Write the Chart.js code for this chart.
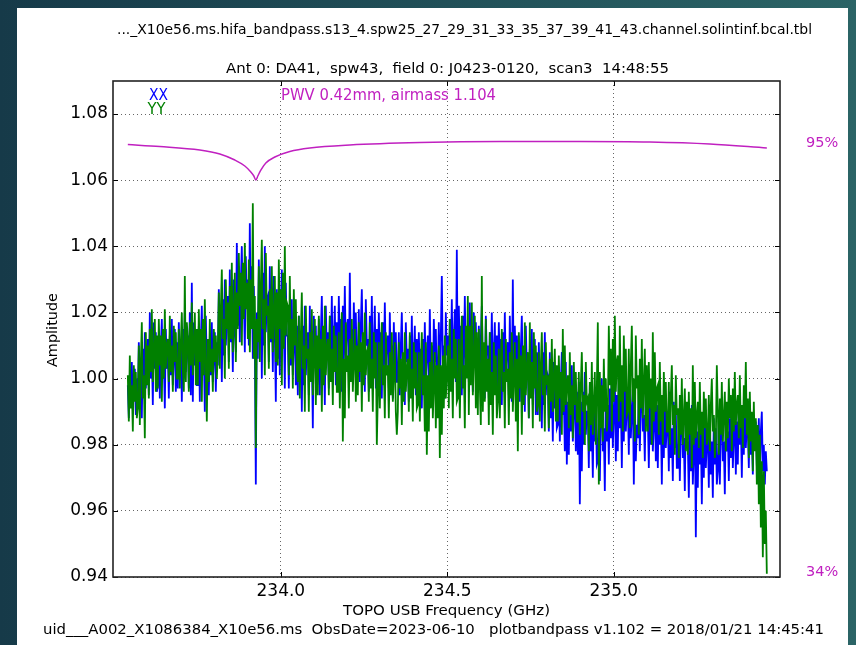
<!DOCTYPE html>
<html><head><meta charset="utf-8">
<script src="https://cdn.jsdelivr.net/npm/chart.js@4/dist/chart.umd.min.js"></script>
<style>
html,body{margin:0;padding:0;width:856px;height:645px;overflow:hidden;background:linear-gradient(90deg,#163a49,#2b6466);}
#panel{position:absolute;left:17px;top:8px;width:831px;height:637px;background:#fff;}
#wrap{position:absolute;left:0;top:0;width:856px;height:645px;}
</style></head><body>
<div id="panel"></div>
<div id="wrap"><canvas id="c" width="856" height="645"></canvas></div>
<script>
// ---- data ----
const freqStartGHz = 233.5405;  // first channel
const freqStepGHz = 0.003003;   // channel spacing

const xxAmp = [
0.998,0.988,1.001,0.993,1.005,0.991,0.997,1.003,0.989,1.000,
0.992,1.011,0.998,1.006,0.988,1.009,0.995,1.014,0.997,1.004,
1.012,0.995,1.020,1.000,1.009,0.992,1.017,1.003,1.014,0.996,
0.998,1.013,0.994,1.009,1.018,1.000,1.006,0.991,1.015,1.003,
1.009,0.994,1.013,1.001,1.018,0.998,1.006,1.015,0.996,1.011,
0.997,1.017,1.004,1.012,0.993,1.015,1.000,1.020,1.002,1.009,
1.013,0.997,1.020,0.995,1.029,0.993,1.017,1.004,1.014,0.998,
0.998,1.016,0.993,1.011,1.022,1.001,1.008,0.990,1.019,1.004,
1.008,0.995,1.012,1.001,1.017,0.999,1.006,1.014,0.996,1.011,
1.004,1.027,1.011,1.021,0.999,1.024,1.007,1.030,1.010,1.018,
1.025,1.005,1.033,1.011,1.021,1.002,1.030,1.014,1.008,1.041,
1.016,1.034,1.011,1.029,1.040,1.019,1.026,1.008,1.037,1.022,
1.030,1.010,1.047,1.015,1.034,1.006,1.028,1.012,0.968,1.020,
1.006,1.036,1.016,1.028,1.000,1.032,1.010,1.040,1.014,1.024,
1.025,1.005,1.034,1.011,1.022,1.002,1.031,1.014,0.993,1.027,
1.006,1.026,1.001,1.020,1.033,1.010,1.017,0.997,1.029,1.013,
1.013,0.997,1.018,1.004,1.024,1.001,1.010,1.021,0.998,1.016,
0.995,1.019,1.003,1.012,0.990,1.016,0.998,1.022,1.001,1.009,
1.014,0.995,1.022,1.000,1.010,0.985,1.019,1.004,1.016,0.997,
1.000,1.018,0.995,1.013,1.025,1.004,1.010,0.992,1.022,1.007,
1.014,0.997,1.019,1.005,1.025,1.001,1.011,1.022,0.998,1.017,
1.001,1.025,1.009,1.018,0.996,1.022,1.004,1.028,1.007,1.015,
1.018,1.002,1.032,1.006,1.015,0.999,1.023,1.009,1.020,1.003,
1.004,1.021,0.999,1.016,1.027,1.007,1.013,0.996,1.024,1.010,
1.012,0.996,1.019,1.003,1.025,1.000,1.009,1.022,0.997,1.015,
0.998,1.020,1.006,1.014,0.994,1.017,1.001,1.023,1.004,1.011,
1.013,0.997,1.020,1.001,1.010,0.994,1.017,1.004,1.014,0.999,
0.999,1.014,0.995,1.010,1.020,1.002,1.007,0.992,1.017,1.005,
1.009,0.993,1.013,1.000,1.019,0.998,1.006,1.016,0.995,1.012,
0.995,1.014,1.001,1.009,0.991,1.012,0.998,1.017,1.000,1.007,
1.013,0.997,1.021,1.002,1.010,0.994,1.018,1.005,1.015,0.999,
1.001,1.017,0.997,1.013,1.031,1.004,1.010,0.994,1.020,1.007,
1.013,0.997,1.018,1.005,1.024,1.002,1.011,1.021,0.999,1.039,
0.999,1.022,1.007,1.016,0.995,1.019,1.003,1.025,1.006,1.013,
1.015,0.999,1.023,1.004,1.012,0.996,1.020,1.007,1.017,1.001,
1.001,1.016,0.997,1.012,1.022,1.004,1.009,0.994,1.019,1.007,
1.010,0.994,1.014,1.001,1.020,0.999,1.007,1.017,0.996,1.013,
0.996,1.017,1.003,1.012,0.992,1.014,0.999,1.020,1.002,1.009,
1.011,0.995,1.019,1.000,0.993,1.030,0.998,1.016,1.003,1.013,
0.997,1.013,0.993,1.009,1.019,1.000,1.006,0.990,1.016,1.003,
1.005,0.988,1.009,0.995,1.015,0.992,1.002,1.012,0.989,1.008,
0.989,1.011,0.997,1.005,0.985,1.008,0.992,1.014,0.995,1.002,
1.001,0.984,1.008,0.988,0.998,0.981,1.005,0.991,1.002,0.985,
0.986,1.002,0.981,0.998,1.008,0.989,0.995,0.978,1.005,0.974,
0.993,0.977,0.998,0.984,1.004,0.981,0.990,1.001,0.978,0.996,
0.977,0.999,0.962,0.993,0.972,0.996,0.980,1.002,0.983,0.990,
0.990,0.973,0.998,0.978,0.987,0.970,0.995,0.981,0.992,0.974,
0.975,0.993,0.969,0.988,1.000,0.978,0.985,0.966,0.997,0.981,
0.992,0.974,0.997,0.982,1.003,0.979,0.989,1.000,0.975,0.995,
0.978,1.001,0.985,0.995,0.973,0.998,0.981,1.004,0.984,0.992,
0.993,0.977,1.001,0.982,0.990,0.997,0.968,0.994,0.975,0.986,
0.982,0.996,0.978,0.992,1.001,0.984,0.989,0.975,0.998,0.987,
0.989,0.973,0.993,0.980,0.999,0.978,0.986,0.996,0.975,0.992,
0.973,0.995,0.980,0.989,0.968,0.992,0.976,0.998,0.979,0.986,
0.988,0.972,0.996,0.976,0.985,0.969,0.993,0.979,0.990,0.973,
0.973,0.989,0.969,0.985,0.995,0.976,0.982,0.966,0.992,0.979,
0.981,0.964,0.986,0.972,0.992,0.968,0.978,0.989,0.952,0.984,
0.967,0.990,0.974,0.984,0.962,0.987,0.970,0.993,0.973,0.981,
0.984,0.967,0.991,0.971,0.981,0.964,0.988,0.974,0.985,0.968,
0.972,0.988,0.968,0.984,0.994,0.975,0.981,0.965,0.991,0.978,
0.984,0.969,0.988,0.976,0.994,0.973,0.982,0.991,0.971,0.987,
0.974,0.993,0.980,0.988,0.970,0.991,0.977,0.996,0.979,0.986,
0.985,0.973,0.991,0.977,0.983,0.971,0.989,0.979,0.987,0.974,
0.974,0.988,0.969,0.984,0.990,0.972,0.980,0.968,0.978,0.972
];

const yyAmp = [
1.001,0.987,1.007,0.991,0.998,0.984,1.004,0.993,1.002,0.988,
0.991,1.010,0.986,1.005,1.017,0.994,1.001,0.982,1.014,0.998,
1.010,0.994,1.015,1.002,1.021,0.999,1.008,1.018,0.996,1.013,
0.997,1.018,1.004,1.013,0.993,1.015,1.000,1.021,1.003,1.010,
1.012,0.999,1.019,1.002,1.010,0.996,1.016,1.005,1.014,1.000,
1.000,1.015,0.997,1.011,1.020,1.003,0.996,1.031,0.999,1.017,
1.012,0.996,1.017,1.004,1.023,1.001,1.010,1.020,0.998,1.015,
0.998,1.021,1.005,1.015,0.993,1.018,1.001,1.024,1.004,0.987,
1.012,0.999,1.018,1.002,1.009,0.996,1.015,1.005,1.013,1.000,
1.008,1.026,1.003,1.021,1.033,1.012,1.018,1.000,1.030,1.015,
1.023,1.003,1.028,1.012,1.035,1.008,1.019,1.032,1.005,1.026,
1.015,1.038,1.022,1.032,1.010,1.035,1.018,1.041,1.021,1.029,
1.012,1.036,1.008,1.030,1.015,1.053,1.006,1.025,0.979,1.018,
1.011,1.034,1.005,1.028,1.042,1.015,1.024,1.001,1.038,1.019,
1.022,1.003,1.027,1.012,1.034,1.008,1.019,1.031,1.005,1.026,
1.004,1.036,1.015,1.027,0.998,1.032,1.009,1.040,1.013,1.023,
1.022,1.001,1.031,1.006,1.018,0.997,1.027,1.010,1.024,1.003,
0.999,1.019,0.994,1.013,1.026,1.003,1.010,0.990,1.022,1.006,
1.009,0.990,1.014,0.999,1.021,0.995,1.006,1.018,0.992,1.013,
0.995,1.019,1.003,1.012,0.990,1.016,0.998,1.022,1.001,1.009,
1.012,0.995,1.019,0.999,1.009,0.992,1.016,1.002,1.013,0.996,
0.996,1.014,0.991,1.009,1.020,0.981,1.006,0.988,1.017,1.002,
1.007,0.991,1.012,0.999,1.018,0.996,1.005,1.015,0.993,1.010,
0.995,1.017,1.002,1.011,0.990,1.014,0.998,1.020,1.001,1.008,
1.009,0.993,1.017,0.997,1.006,0.990,1.014,1.000,1.011,0.980,
0.995,1.011,0.991,1.007,1.017,0.998,1.004,0.988,1.014,1.001,
1.004,0.988,1.008,0.995,1.014,0.993,1.001,1.011,0.990,0.983,
0.990,1.011,0.997,1.006,0.986,1.008,0.993,1.014,0.996,1.003,
1.006,0.990,1.014,0.994,1.003,0.987,1.011,0.997,1.008,0.991,
0.992,1.008,0.987,1.004,1.014,0.995,1.001,0.984,1.011,0.977,
1.001,0.984,1.005,0.991,1.011,0.988,0.998,1.008,0.985,1.004,
0.988,1.010,0.976,1.004,0.983,1.007,0.991,1.013,0.994,1.001,
1.010,0.991,1.018,0.996,1.006,0.988,1.015,1.000,1.012,0.993,
0.994,1.012,0.988,1.007,1.019,0.997,1.004,0.985,1.016,1.000,
1.025,0.989,1.016,0.998,1.023,0.995,1.006,1.019,0.991,1.014,
0.989,1.015,0.998,0.986,1.031,0.990,1.011,0.993,1.018,0.996,
1.006,0.986,1.014,0.992,1.002,0.983,1.011,0.995,1.007,0.988,
0.993,1.009,0.988,1.005,1.015,0.996,1.002,0.985,1.012,0.999,
1.003,0.986,1.008,0.994,1.014,0.990,1.000,1.011,0.987,1.006,
0.978,1.014,0.997,1.007,0.983,1.010,0.992,1.017,0.995,1.003,
1.008,0.988,1.017,0.994,1.005,0.985,1.014,0.997,1.010,0.990,
0.992,1.008,0.987,1.004,1.014,0.995,1.001,0.984,1.011,0.998,
1.001,0.985,1.006,0.993,1.012,0.990,0.999,1.009,0.987,1.004,
0.987,1.007,0.994,1.002,0.983,1.015,0.990,1.010,0.992,0.999,
1.001,0.985,1.008,0.989,0.998,0.982,1.005,0.992,1.002,0.987,
0.987,1.002,0.983,0.998,1.008,0.990,0.995,0.980,1.005,0.993,
0.994,0.978,0.999,0.986,1.005,0.983,0.992,1.002,0.980,0.997,
1.017,0.968,1.002,0.985,0.998,0.981,1.006,0.990,1.000,0.984,
0.989,1.016,0.998,1.009,0.984,1.012,0.993,1.019,0.996,1.005,
1.007,0.987,1.016,0.993,1.004,0.984,1.013,0.996,1.009,0.989,
0.990,1.009,0.985,1.004,1.016,0.993,1.000,0.981,1.013,0.997,
1.001,0.983,1.006,0.991,1.012,0.988,0.998,1.009,0.984,1.004,
0.984,1.005,0.991,1.000,0.980,1.014,0.987,1.008,0.990,0.997,
0.998,0.983,1.005,0.987,0.995,0.980,1.002,0.990,0.999,0.984,
0.984,0.999,0.980,0.995,1.004,0.986,0.992,0.977,1.001,0.989,
0.991,0.976,0.995,0.983,1.000,0.980,0.988,0.997,0.978,0.993,
0.977,0.996,0.983,0.991,0.973,1.004,0.980,0.999,0.982,0.989,
0.993,0.979,0.999,0.983,0.990,0.976,0.996,0.985,0.994,0.980,
0.982,0.995,0.978,0.992,1.000,0.984,0.989,0.976,0.981,1.004,
0.990,0.977,0.994,0.983,0.999,0.981,0.988,0.996,0.978,0.993,
0.982,1.000,0.988,0.995,0.978,0.997,0.984,1.002,0.986,0.992,
0.995,0.982,1.001,0.985,0.992,0.979,0.998,0.988,1.005,0.983,
0.994,0.976,0.996,0.981,0.990,0.972,0.993,0.978,0.988,0.968,
0.986,0.962,0.983,0.955,0.975,0.946,0.972,0.950,0.960,0.941
];

const atmFreqGHz = [233.5405,233.6366,233.7568,233.8168,233.8619,233.8919,233.9099,233.9189,233.9249,233.9309,233.9399,233.9550,233.9820,234.0270,234.0871,234.2072,234.4174,234.6577,234.8979,235.1081,235.2883,235.4595];
const atmTransPct = [94.79,94.50,94.00,93.44,92.58,91.73,90.88,90.31,89.74,90.31,91.16,92.16,93.01,93.79,94.29,94.72,95.07,95.21,95.21,95.14,94.86,94.29];

const xTickValues = [234.0, 234.5, 235.0];
const yTickValues = [0.94, 0.96, 0.98, 1.00, 1.02, 1.04, 1.06, 1.08];
const transTickValues = [95, 34];

const titleLine1 = "..._X10e56.ms.hifa_bandpass.s13_4.spw25_27_29_31_33_35_37_39_41_43.channel.solintinf.bcal.tbl";
const titleLine2 = "Ant 0: DA41,  spw43,  field 0: J0423-0120,  scan3  14:48:55";
const footerText = "uid___A002_X1086384_X10e56.ms  ObsDate=2023-06-10   plotbandpass v1.102 = 2018/01/21 14:45:41";
const pwvText = "PWV 0.42mm, airmass 1.104";
const xTitle = "TOPO USB Frequency (GHz)";
const yTitle = "Amplitude";

// ---- build chart ----
const MAG = '#c020c0';
const toPts = arr => arr.map((v, i) => ({x: freqStartGHz + i * freqStepGHz, y: v}));
const atmPts = atmFreqGHz.map((f, i) => ({x: f, y: atmTransPct[i]}));

function drawFit(ctx, text, cx, cy, width, font, color, rot) {
  ctx.save();
  ctx.font = font;
  ctx.fillStyle = color;
  ctx.textAlign = 'center';
  ctx.textBaseline = 'middle';
  const w = ctx.measureText(text).width;
  ctx.translate(cx, cy);
  if (rot) ctx.rotate(rot);
  ctx.scale(width / w, 1);
  ctx.fillText(text, 0, 0);
  ctx.restore();
}

const decor = {
  id: 'decor',
  afterDatasetsDraw(chart) {
    const {ctx, chartArea: a, scales: {x, y}} = chart;
    ctx.save();
    ctx.strokeStyle = '#000';
    ctx.lineWidth = 1;
    ctx.beginPath();
    x.ticks.forEach(t => {
      const px = Math.round(x.getPixelForValue(t.value)) + 0.5;
      ctx.moveTo(px, a.bottom); ctx.lineTo(px, a.bottom - 5);
      ctx.moveTo(px, a.top); ctx.lineTo(px, a.top + 5);
    });
    y.ticks.forEach(t => {
      const py = Math.round(y.getPixelForValue(t.value)) + 0.5;
      ctx.moveTo(a.left, py); ctx.lineTo(a.left + 5, py);
      ctx.moveTo(a.right, py); ctx.lineTo(a.right - 5, py);
    });
    ctx.stroke();
    ctx.lineWidth = 1.6;
    ctx.strokeStyle = '#222';
    ctx.strokeRect(a.left, a.top, a.right - a.left, a.bottom - a.top);
    ctx.restore();
  },
  afterDraw(chart) {
    const ctx = chart.ctx;
    const cond = '"DejaVu Sans Condensed", "DejaVu Sans", sans-serif';
    drawFit(ctx, titleLine1, 464.5, 30, 695, '14px ' + cond, '#000');
    drawFit(ctx, titleLine2, 447.5, 69, 443, '14px ' + cond, '#000');
    drawFit(ctx, xTitle, 446.5, 611, 207, '14px ' + cond, '#000');
    drawFit(ctx, footerText, 433.5, 630, 781, '14px ' + cond, '#000');
    drawFit(ctx, yTitle, 53.5, 330, 74, '14px ' + cond, '#000', -Math.PI / 2);
    drawFit(ctx, pwvText, 388.5, 96, 215, '15px "DejaVu Sans", sans-serif', MAG);
    drawFit(ctx, 'XX', 158.5, 96, 19, '15px "DejaVu Sans", sans-serif', '#0000ff');
    drawFit(ctx, 'YY', 156.5, 110, 18, '15px "DejaVu Sans", sans-serif', '#008000');
  }
};

const gridOpts = {color: 'rgba(0,0,0,0.6)', lineWidth: 1, drawTicks: false};

new Chart(document.getElementById('c'), {
  type: 'line',
  data: {
    datasets: [
      {label: 'XX', data: toPts(xxAmp), borderColor: '#0000ff', borderWidth: 1.8, pointRadius: 0, tension: 0, yAxisID: 'y', order: 2},
      {label: 'YY', data: toPts(yyAmp), borderColor: '#008000', borderWidth: 1.8, pointRadius: 0, tension: 0, yAxisID: 'y', order: 1},
      {label: 'atm', data: atmPts, borderColor: MAG, borderWidth: 1.5, pointRadius: 0, cubicInterpolationMode: 'monotone', yAxisID: 'y2', order: 0}
    ]
  },
  options: {
    responsive: false,
    animation: false,
    layout: {padding: {top: 81, left: 0, right: 0, bottom: 0}},
    plugins: {legend: {display: false}, tooltip: {enabled: false}, title: {display: false}},
    scales: {
      x: {
        type: 'linear', min: 233.496, max: 235.499,
        afterBuildTicks: s => { s.ticks = xTickValues.map(v => ({value: v})); },
        afterFit: s => { s.height = 68; },
        ticks: {callback: v => Number(v).toFixed(1), font: {family: 'DejaVu Sans', size: 17}, color: '#000', padding: 4, maxRotation: 0, autoSkip: false},
        grid: gridOpts,
        border: {display: false, dash: [1, 3]}
      },
      y: {
        type: 'linear', position: 'left', min: 0.94, max: 1.09,
        afterBuildTicks: s => { s.ticks = yTickValues.map(v => ({value: v})); },
        afterFit: s => { s.width = 113; },
        ticks: {callback: v => Number(v).toFixed(2), font: {family: 'DejaVu Sans', size: 17}, color: '#000', padding: 5, autoSkip: false},
        grid: gridOpts,
        border: {display: false, dash: [1, 3]}
      },
      y2: {
        type: 'linear', position: 'right', min: 33.29, max: 103.82,
        afterBuildTicks: s => { s.ticks = transTickValues.map(v => ({value: v})); },
        afterFit: s => { s.width = 76; },
        ticks: {callback: v => v + '%', font: {family: 'DejaVu Sans', size: 14.5}, color: MAG, padding: 26, autoSkip: false},
        grid: {display: false, drawTicks: false},
        border: {display: false}
      }
    }
  },
  plugins: [decor]
});
</script>
</body></html>
